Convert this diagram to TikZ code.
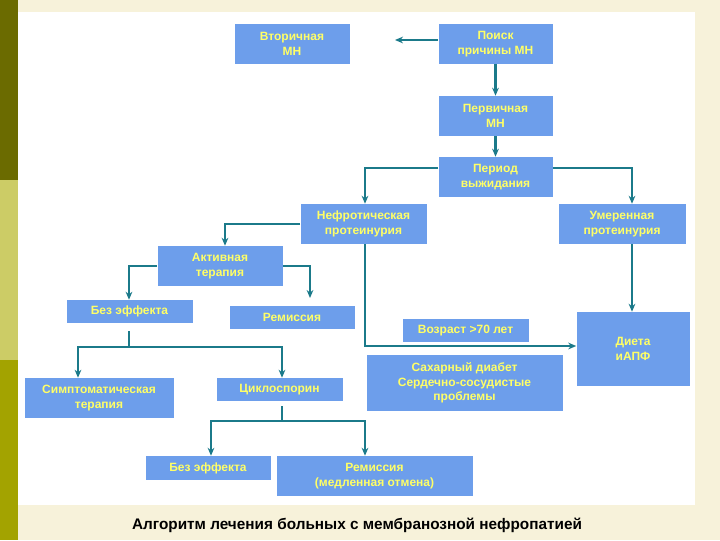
\documentclass[tikz,border=0pt]{standalone}
\usepackage{fontspec}
\setmainfont{Liberation Sans}
\usetikzlibrary{arrows.meta}
\definecolor{cream}{HTML}{F7F2DA}
\definecolor{olA}{HTML}{6B6B00}
\definecolor{olB}{HTML}{CCCC66}
\definecolor{olC}{HTML}{A3A300}
\definecolor{boxc}{HTML}{6D9EEB}
\definecolor{txtc}{HTML}{FFFF66}
\definecolor{linec}{HTML}{1B7A8A}
\tikzset{
  box/.style={fill=boxc, draw=none, inner sep=1pt, align=center, text=txtc,
    font=\fontsize{9}{11}\selectfont\bfseries},
  conn/.style={draw=linec, line width=1.6pt, -{Stealth[length=6pt,width=5pt]}},
  seg/.style={draw=linec, line width=1.6pt}
}
\newcommand{\bx}[6]{\node[box, minimum width=#4*0.75pt-0.75pt, minimum height=#5*0.75pt] (#1) at ({(#2+#4/2)},{(#3+#5/2)}) {#6};}
\begin{document}
\begin{tikzpicture}[x=0.75pt,y=-0.75pt]
\useasboundingbox (0,0) rectangle (720,540);
\fill[cream] (0,0) rectangle (720,540);
\fill[white] (18,12) rectangle (695,505);
\fill[olA] (0,0) rectangle (18,180);
\fill[olB] (0,180) rectangle (18,360);
\fill[olC] (0,360) rectangle (18,540);
\bx{vt}{234}{24}{116}{40}{Вторичная\\МН}
\bx{pk}{438}{24}{115}{40}{Поиск\\причины МН}
\bx{pr}{438}{96}{115}{40}{Первичная\\МН}
\bx{pe}{438}{157}{115}{40}{Период\\выжидания}
\bx{nf}{300}{204}{127}{40}{Нефротическая\\протеинурия}
\bx{um}{558}{204}{128}{40}{Умеренная\\протеинурия}
\bx{ak}{157}{246}{126}{40}{Активная\\терапия}
\bx{be1}{66}{300}{127}{23}{Без эффекта}
\bx{re1}{229}{306}{126}{23}{Ремиссия}
\bx{vo}{402}{319}{127}{23}{Возраст >70 лет}
\bx{sd}{366}{355}{197}{56}{Сахарный диабет\\Сердечно-сосудистые\\проблемы}
\bx{di}{576}{312}{114}{74}{Диета\\иАПФ}
\bx{si}{24}{378}{150}{40}{Симптоматическая\\терапия}
\bx{ci}{216}{378}{127}{23}{Циклоспорин}
\bx{be2}{145}{456}{126}{24}{Без эффекта}
\bx{re2}{276}{456}{197}{40}{Ремиссия\\(медленная отмена)}
\coordinate (vtE) at (395,40);
\draw[conn] (pk.west |- 0,40) -- (vtE);
\draw[conn] (pk) -- (pr);
\draw[conn] (pr) -- (pe);
\draw[conn] (pe.west |- 0,168) -| (nf.north -| 365,0);
\draw[conn] (pe.east |- 0,168) -| (um.north -| 632,0);
\draw[conn] (nf.west |- 0,224) -| (ak.north -| 225,0);
\draw[conn] (ak.west |- 0,266) -| (be1.north -| 129,0);
\coordinate (re1T) at (310,298);
\draw[conn] (ak.east |- 0,266) -| (re1T);
\draw[conn] (nf.south -| 365,0) |- (di.west |- 0,346);
\draw[conn] (um.south -| 632,0) -- (di.north -| 632,0);
\coordinate (j1) at (129,347);
\draw[seg] (129,331) -- (j1);
\draw[conn] (j1) -| (si.north -| 78,0);
\draw[conn] (j1) -| (ci.north -| 282,0);
\coordinate (j2) at (282,421);
\draw[seg] (282,406) -- (j2);
\draw[conn] (j2) -| (be2.north -| 211,0);
\draw[conn] (j2) -| (re2.north -| 365,0);
\node[font=\fontsize{11.5}{13}\selectfont\bfseries, text=black] (cap) at (357,525) {Алгоритм лечения больных с мембранозной нефропатией};
\end{tikzpicture}
\end{document}
